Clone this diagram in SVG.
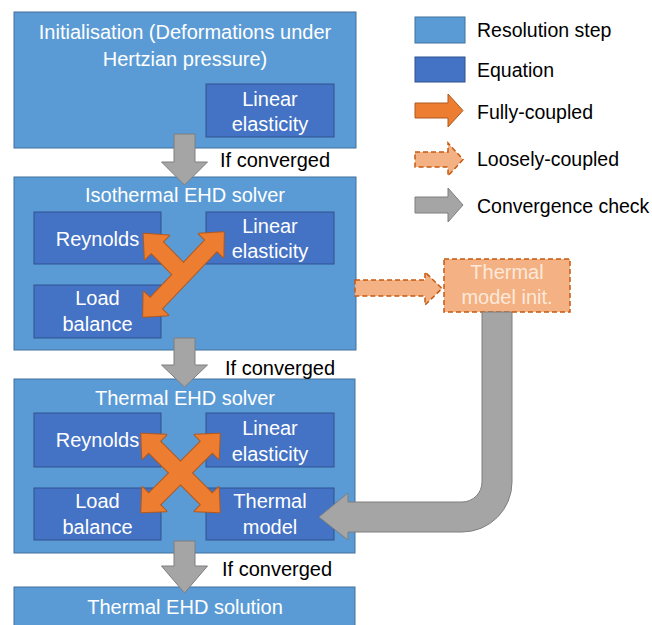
<svg xmlns="http://www.w3.org/2000/svg" xmlns:xlink="http://www.w3.org/1999/xlink" width="652" height="625" viewBox="0 0 652 625">
<style>
  text { font-family: "Liberation Sans", Arial, sans-serif; }
  .step { fill: #5B9BD5; stroke: #41719C; stroke-width: 1; }
  .eq { fill: #4472C4; stroke: #2F528F; stroke-width: 1; }
  .wt { fill: #FFFFFF; font-size: 20px; text-anchor: middle; }
  .bk { fill: #000000; font-size: 20px; }
  .lg { fill: #000000; font-size: 19.5px; }
  .gray { fill: #A5A5A5; stroke: #7F7F7F; stroke-width: 1; }
  .orS { fill: #ED7D31; stroke: #AE5A21; stroke-width: 2; stroke-linejoin: round; }
  .orF { fill: #ED7D31; stroke: none; }
  .loose { fill: #F4B183; stroke: #C55A11; stroke-width: 1.5; stroke-dasharray: 5 3; }
  .lt { fill: #FCE9DB; font-size: 20px; text-anchor: middle; }
</style>
<defs>
  <polygon id="dbl56" points="-55.5,0 -37,-17 -37,-8 37,-8 37,-17 55.5,0 37,17 37,8 -37,8 -37,17"/>
  <polygon id="dbl58" points="-58.5,0 -40,-17 -40,-8 40,-8 40,-17 58.5,0 40,17 40,8 -40,8 -40,17"/>
  <polygon id="single" points="-57,0 -38,-17 -38,-8 0,-8 0,8 -38,8 -38,17"/>
</defs>

<!-- Legend -->
<g id="legend">
  <rect class="step" x="415" y="17" width="50" height="26"/>
  <text class="lg" x="477" y="37">Resolution step</text>
  <rect class="eq" x="415" y="57" width="50" height="25"/>
  <text class="lg" x="477" y="77">Equation</text>
  <polygon class="orS" style="stroke-width:1" points="415,103 448,103 448,94 463,110.5 448,127 448,118 415,118"/>
  <text class="lg" x="477" y="119">Fully-coupled</text>
  <polygon class="loose" points="415,152 448,152 448,143 463,159.5 448,176 448,167 415,167"/>
  <text class="lg" x="477" y="166">Loosely-coupled</text>
  <polygon class="gray" points="415,197 448,197 448,188 463,205 448,222 448,213 415,213"/>
  <text class="lg" x="477" y="213">Convergence check</text>
</g>

<!-- Step 1 -->
<g id="init">
  <rect class="step" x="14" y="12" width="342" height="136"/>
  <text class="wt" x="185" y="39">Initialisation (Deformations under</text>
  <text class="wt" x="185" y="66">Hertzian pressure)</text>
</g>
<g id="init-elasticity">
  <rect class="eq" x="206" y="84" width="128" height="53"/>
  <text class="wt" x="270" y="106">Linear</text>
  <text class="wt" x="270" y="131">elasticity</text>
</g>

<!-- Step 2 -->
<g id="iso-solver">
  <rect class="step" x="14" y="177" width="342" height="173"/>
  <text class="wt" x="185" y="202">Isothermal EHD solver</text>
</g>
<g id="iso-reynolds">
  <rect class="eq" x="34" y="212" width="127" height="52"/>
  <text class="wt" x="97.5" y="246">Reynolds</text>
</g>
<g id="iso-elasticity">
  <rect class="eq" x="206" y="212" width="128" height="52"/>
  <text class="wt" x="270" y="233">Linear</text>
  <text class="wt" x="270" y="258">elasticity</text>
</g>
<g id="iso-load">
  <rect class="eq" x="34" y="285" width="127" height="53"/>
  <text class="wt" x="97.5" y="305">Load</text>
  <text class="wt" x="97.5" y="331">balance</text>
</g>

<!-- Thermal model init -->
<g id="thermal-init">
  <rect class="loose" x="444" y="259" width="126" height="53"/>
  <text class="lt" x="507" y="279">Thermal</text>
  <text class="lt" x="507" y="304">model init.</text>
</g>

<!-- Step 3 -->
<g id="thermal-solver">
  <rect class="step" x="14" y="379" width="341" height="174"/>
  <text class="wt" x="185" y="405">Thermal EHD solver</text>
</g>
<g id="th-reynolds">
  <rect class="eq" x="34" y="413" width="127" height="54"/>
  <text class="wt" x="97.5" y="447">Reynolds</text>
</g>
<g id="th-elasticity">
  <rect class="eq" x="206" y="413" width="128" height="54"/>
  <text class="wt" x="270" y="435">Linear</text>
  <text class="wt" x="270" y="461">elasticity</text>
</g>
<g id="th-load">
  <rect class="eq" x="34" y="488" width="127" height="52"/>
  <text class="wt" x="97.5" y="508">Load</text>
  <text class="wt" x="97.5" y="534">balance</text>
</g>
<g id="th-thermal">
  <rect class="eq" x="206" y="488" width="128" height="52"/>
  <text class="wt" x="270" y="508">Thermal</text>
  <text class="wt" x="270" y="534">model</text>
</g>

<!-- Step 4 -->
<g id="solution">
  <rect class="step" x="14" y="587" width="341" height="50"/>
  <text class="wt" x="185" y="614">Thermal EHD solution</text>
</g>

<!-- Connectors -->
<g id="connectors">
  <polygon class="gray" points="174,134 195,134 195,162 207.5,162 184.5,185 161.5,162 174,162"/>
  <text class="bk" x="220" y="167">If converged</text>
  <polygon class="gray" points="174,338 195,338 195,365 207.5,365 184.5,387 161.5,365 174,365"/>
  <text class="bk" x="225" y="375">If converged</text>
  <polygon class="gray" points="174,541 195,541 195,566 207.5,566 184.5,593 161.5,566 174,566"/>
  <text class="bk" x="222" y="576">If converged</text>

  <polygon class="loose" points="355,280 425,280 425,272 442,288.5 425,305 425,296 355,296"/>

  <path class="gray" d="M512,312 L512,482 A50,50 0 0 1 462,532 L348,532 L348,540 L319,517 L348,493 L348,502 L462,502 A20,20 0 0 0 482,482 L482,312 Z"/>

  <g id="iso-coupling">
    <use xlink:href="#single" class="orS" transform="translate(183.5,274.5) rotate(45.7)"/>
    <use xlink:href="#dbl58" class="orS" transform="translate(183.5,274.5) rotate(-46.4)"/>
    <use xlink:href="#single" class="orF" transform="translate(183.5,274.5) rotate(45.7)"/>
    <use xlink:href="#dbl58" class="orF" transform="translate(183.5,274.5) rotate(-46.4)"/>
  </g>
  <g id="thermal-coupling">
    <use xlink:href="#dbl56" class="orS" transform="translate(180.5,473) rotate(45)"/>
    <use xlink:href="#dbl56" class="orS" transform="translate(180.5,473) rotate(-45)"/>
    <use xlink:href="#dbl56" class="orF" transform="translate(180.5,473) rotate(45)"/>
    <use xlink:href="#dbl56" class="orF" transform="translate(180.5,473) rotate(-45)"/>
  </g>
</g>
</svg>
